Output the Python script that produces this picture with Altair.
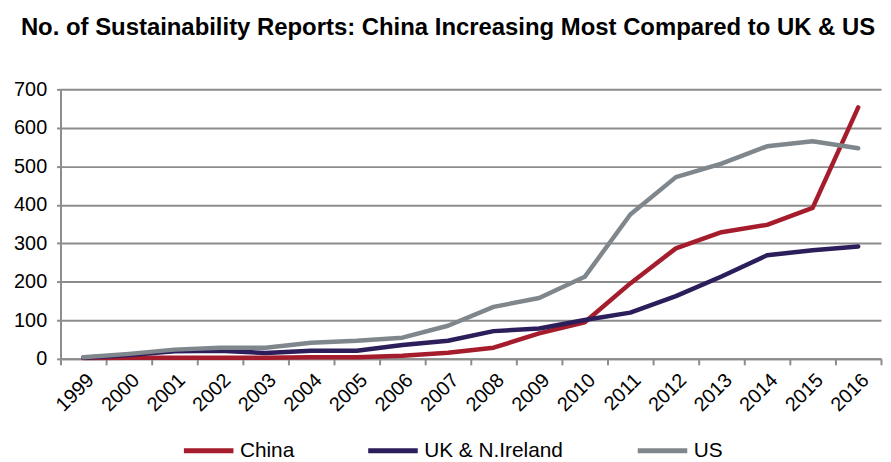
import altair as alt
import pandas as pd

years = [str(y) for y in range(1999, 2017)]
china = [2, 3, 3, 3, 3, 4, 4, 8, 16, 29, 66, 95, 196, 287, 329, 348, 392, 653]
uk = [3, 10, 20, 21, 15, 21, 21, 36, 47, 72, 79, 101, 120, 163, 214, 269, 282, 292]
us = [4, 13, 24, 29, 29, 42, 47, 55, 86, 135, 158, 213, 375, 472, 507, 552, 565, 547]

series = ["China", "UK & N.Ireland", "US"]
colors = ["#A51C2C", "#2C1D5B", "#7F878D"]

rows = []
for name, vals in zip(series, [china, uk, us]):
    for y, v in zip(years, vals):
        rows.append({"Year": y, "Reports": v, "Series": name})
df = pd.DataFrame(rows)

font = "Liberation Sans"

chart = alt.Chart(df).mark_line(strokeWidth=4.5, strokeJoin="round", strokeCap="round").encode(
    x=alt.X("Year:O", scale=alt.Scale(type="band", domain=years, paddingInner=0, paddingOuter=0),
            bandPosition=0.5,
            axis=alt.Axis(title=None, labelAngle=-45, labelAlign="right", labelBaseline="top",
                          labelFontSize=20, labelColor="#000000", labelFont=font, labelPadding=5,
                          tickBand="extent", tickSize=6, tickColor="#8c8c8c", tickWidth=2,
                          domainColor="#8c8c8c", domainWidth=2, grid=False)),
    y=alt.Y("Reports:Q", scale=alt.Scale(domain=[0, 700], nice=False),
            axis=alt.Axis(title=None, values=[0, 100, 200, 300, 400, 500, 600, 700],
                          labelFontSize=20, labelColor="#000000", labelFont=font, labelPadding=10,
                          tickSize=4, tickColor="#8c8c8c", tickWidth=2,
                          domainColor="#8c8c8c", domainWidth=2,
                          grid=True, gridColor="#8c8c8c", gridWidth=2)),
    color=alt.Color("Series:N", scale=alt.Scale(domain=series, range=colors),
                    legend=alt.Legend(title=None, orient="none", legendX=122, legendY=337,
                                      direction="horizontal", symbolType="stroke",
                                      symbolStrokeWidth=5, symbolSize=2500,
                                      labelFontSize=21, labelFont=font, labelColor="#000000",
                                      columnPadding=64, labelOffset=4, padding=0)),
    order=alt.Order("Year:O"),
).properties(
    width=828,
    height=272,
    autosize=alt.AutoSizeParams(type="none"),
    padding={"left": 53, "top": 80, "right": 2, "bottom": 102},
    title=alt.TitleParams("No. of Sustainability Reports: China Increasing Most Compared to UK & US",
                          anchor="start", frame="group", dx=-40, offset=40, fontSize=24.1,
                          font=font, fontWeight="bold", color="#000000"),
).configure_view(stroke=None)

chart.save("out.html", embed_options={"renderer": "svg", "actions": False})
